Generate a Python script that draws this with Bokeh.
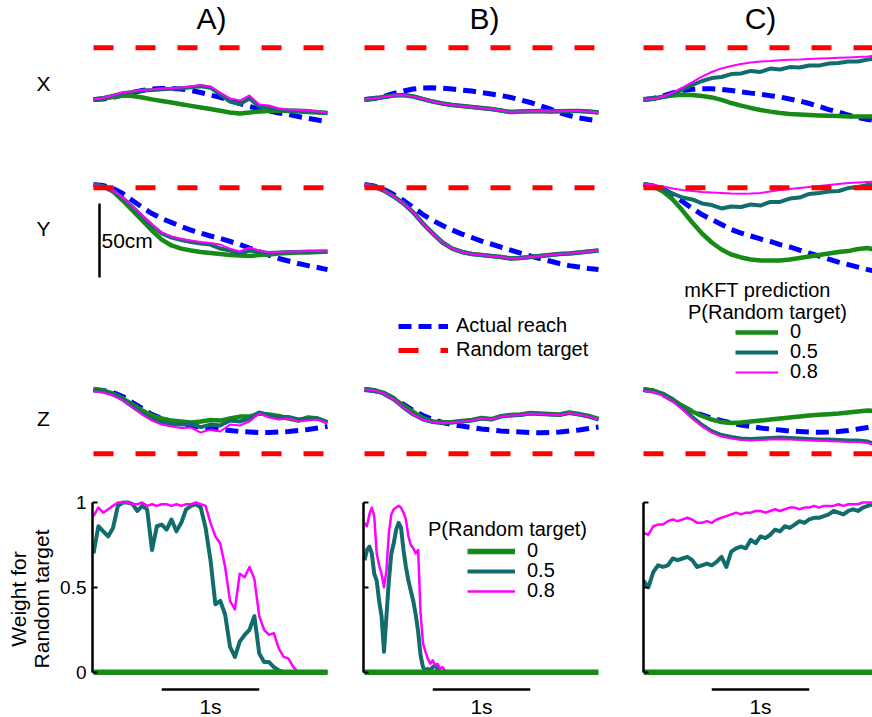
import numpy as np
from bokeh.plotting import figure
from bokeh.layouts import column, row
from bokeh.models import (Range1d, Label, Legend, LegendItem, LinearAxis,
                          FixedTicker, PrintfTickFormatter, CustomLabelingPolicy)
from bokeh.embed import file_html
from bokeh.resources import INLINE

# ---------------------------------------------------------------- data
# time of the position samples (s)
t_pos = [0.0, 0.1, 0.2, 0.3, 0.4, 0.5, 0.6, 0.7, 0.8, 0.9, 1.0, 1.1, 1.2,
         1.3, 1.4, 1.5, 1.6, 1.7, 1.8, 1.9, 2.0, 2.1, 2.2, 2.3, 2.4]
t_trial = [0.0, 2.4]

# random target position (cm, relative to start of reach)
target_x = 34.9
target_y = -2.2
target_z = -43.4

# ---- panel A (cm)
xA_reach = [0, 0.3, 1.4, 3.0, 4.7, 6.1, 7.1, 7.4, 7.4, 7.1, 6.1, 4.7, 3.0, 1.4, -0.7,
            -2.7, -4.7, -6.4, -7.8, -9.1, -10.1, -11.5, -12.8, -13.9, -14.9]
xA_m0 = [0, 0.7, 1.7, 2.7, 2.4, 1.4, 0.1, -1.0, -2.0, -3.2, -4.3, -5.4, -6.4, -7.6, -8.8,
         -9.5, -8.8, -8.1, -7.8, -7.4, -7.8, -8.1, -8.5, -8.8, -9.1]
xA_m05 = [0, 1.0, 2.5, 4.3, 5.0, 6.0, 6.4, 7.0, 7.3, 7.6, 8.3, 9.0, 8.0, 3.4, -1.4,
          -3.0, 0.7, -4.7, -5.4, -6.8, -7.4, -7.4, -7.8, -8.5, -9.1]
xA_m08 = [0, 1.0, 2.7, 4.7, 5.4, 6.4, 6.8, 7.4, 7.8, 8.1, 8.8, 9.8, 8.8, 4.7, 0.7,
          -0.7, 2.7, -3.4, -4.1, -6.1, -6.8, -7.1, -7.4, -8.1, -8.8]

yA_reach = [0, -0.7, -2.7, -6.1, -10.8, -15.5, -19.6, -23.0, -25.7, -28.4, -30.8, -32.8,
            -34.8, -36.5, -38.5, -40.5, -42.9, -45.3, -47.7, -50.0, -51.7, -53.4, -54.8,
            -56.1, -57.5]
yA_m0 = [0, -1.4, -4.7, -10.8, -17.6, -24.3, -31.1, -37.2, -41.2, -43.3, -44.6, -45.6,
         -46.3, -47.0, -47.7, -48.0, -48.3, -47.7, -47.3, -46.6, -46.3, -46.0, -46.0,
         -45.6, -45.3]
yA_m05 = [-0.3, -1.4, -4.1, -9.1, -15.2, -21.6, -27.7, -33.1, -35.9, -37.5, -38.9, -39.9,
          -40.6, -43.3, -44.6, -46.6, -44.6, -45.6, -46.3, -46.0, -45.6, -45.6, -45.3,
          -45.3, -45.6]
yA_m08 = [-0.3, -1.4, -4.1, -8.8, -14.9, -21.0, -27.0, -32.4, -35.2, -36.8, -37.9, -38.9,
          -39.5, -40.6, -43.3, -45.3, -42.6, -44.6, -46.0, -45.6, -45.3, -45.3, -45.0,
          -45.0, -45.3]

zA_reach = [0, -0.7, -2.0, -4.7, -8.8, -12.8, -16.9, -19.6, -21.6, -23.3, -24.3, -25.4,
            -26.4, -27.0, -27.7, -28.4, -28.7, -29.1, -29.1, -28.7, -28.4, -27.7, -27.0,
            -26.0, -25.0]
zA_m0 = [0.3, -0.7, -2.7, -6.1, -10.1, -14.2, -17.6, -19.6, -21.0, -21.6, -22.3, -21.6,
         -20.6, -21.0, -19.6, -18.3, -18.3, -16.2, -16.9, -17.9, -19.6, -21.0, -18.9,
         -19.6, -22.3]
zA_m05 = [-0.7, -1.4, -3.4, -6.8, -11.5, -16.2, -20.0, -22.3, -23.3, -23.7, -23.3, -25.4,
          -23.7, -24.3, -21.0, -21.6, -19.6, -15.5, -17.6, -18.6, -18.6, -20.3, -19.6,
          -19.6, -22.0]
zA_m08 = [-1.4, -2.0, -4.1, -7.4, -12.2, -16.9, -21.0, -23.7, -25.0, -26.0, -25.7, -29.1,
          -27.0, -28.4, -23.7, -24.3, -21.6, -16.2, -18.9, -20.3, -19.6, -21.6, -21.0,
          -20.3, -23.0]

# ---- panel B (cm) - the three model predictions overlap
xB_reach = [0, 0.7, 2.0, 4.1, 5.7, 7.1, 7.8, 7.9, 7.6, 7.1, 6.4, 5.7, 4.7, 3.7, 2.7,
            1.4, -0.3, -2.0, -4.1, -6.4, -8.8, -10.8, -12.5, -13.5, -14.5]
xB_m0 = [0, 0.7, 1.7, 2.7, 3.0, 2.0, 0.3, -1.4, -2.7, -3.7, -4.4, -5.1, -5.7, -6.4, -7.4,
         -8.5, -8.1, -8.0, -7.8, -8.1, -8.0, -7.8, -7.8, -8.1, -8.8]
xB_m05 = [0, 0.7, 1.7, 2.7, 3.0, 2.0, 0.3, -1.4, -2.7, -3.7, -4.4, -5.1, -5.7, -6.4, -7.4,
          -8.5, -8.1, -8.0, -7.8, -8.1, -8.0, -7.8, -7.8, -8.1, -8.8]
xB_m08 = [0, 0.7, 1.7, 2.7, 3.0, 2.0, 0.3, -1.4, -2.7, -3.7, -4.4, -5.1, -5.7, -6.4, -7.4,
          -8.5, -8.1, -8.0, -7.8, -8.1, -8.0, -7.8, -7.8, -8.1, -8.8]

yB_reach = [0, -1.0, -3.4, -6.8, -10.8, -15.5, -20.3, -24.3, -27.7, -30.8, -33.5, -35.8,
            -38.2, -40.2, -42.3, -44.3, -46.3, -48.3, -50.0, -51.7, -53.4, -54.8, -55.8,
            -56.8, -57.5]
yB_m0 = [0, -1.4, -4.1, -8.1, -12.8, -18.9, -26.4, -33.1, -39.2, -43.3, -45.6, -47.0,
         -47.7, -48.3, -49.0, -50.0, -49.7, -49.0, -48.3, -47.7, -47.0, -46.6, -46.0,
         -45.3, -44.6]
yB_m05 = [0, -1.4, -4.1, -8.1, -12.8, -18.9, -26.4, -33.1, -39.2, -43.3, -45.6, -47.0,
          -47.7, -48.3, -49.0, -50.0, -49.7, -49.0, -48.3, -47.7, -47.0, -46.6, -46.0,
          -45.3, -44.6]
yB_m08 = [0, -1.4, -4.1, -8.1, -12.8, -18.9, -26.4, -33.1, -39.2, -43.3, -45.6, -47.0,
          -47.7, -48.3, -49.0, -50.0, -49.7, -49.0, -48.3, -47.7, -47.0, -46.6, -46.0,
          -45.3, -44.6]

zB_reach = [0, -0.7, -2.7, -6.1, -10.1, -14.2, -17.6, -20.3, -22.3, -23.7, -24.7, -25.7,
            -26.7, -27.4, -28.1, -28.4, -28.7, -29.1, -29.3, -29.1, -28.7, -28.1, -27.4,
            -26.4, -25.4]
zB_m0 = [0, -0.7, -2.4, -6.1, -10.8, -15.2, -19.3, -21.6, -22.3, -22.0, -21.3, -20.6,
         -19.3, -20.0, -18.0, -17.2, -16.9, -15.9, -16.2, -16.6, -16.9, -15.5, -16.6,
         -17.9, -19.9]
zB_m05 = [0, -0.7, -2.7, -6.8, -12.2, -16.9, -20.3, -22.0, -22.6, -22.3, -21.6, -21.0,
          -19.6, -20.3, -18.3, -17.6, -17.2, -16.2, -16.6, -16.9, -17.2, -15.9, -16.9,
          -18.3, -20.3]
zB_m08 = [0, -0.7, -2.7, -6.8, -12.2, -16.9, -20.3, -22.0, -22.6, -22.3, -21.6, -21.0,
          -19.6, -20.3, -18.3, -17.6, -17.2, -16.2, -16.6, -16.9, -17.2, -15.9, -16.9,
          -18.3, -20.3]

# ---- panel C (cm)
xC_reach = [0, 0.7, 2.4, 4.4, 6.1, 6.9, 7.2, 7.2, 6.8, 6.1, 5.1, 4.3, 3.6, 2.6, 1.7,
            0.3, -1.0, -2.7, -4.7, -6.8, -8.5, -10.5, -12.2, -13.5, -14.5]
xC_m0 = [0, 0.7, 1.8, 2.7, 3.2, 3.0, 2.4, 1.4, -0.3, -2.4, -4.1, -5.7, -7.1, -8.2, -9.1,
         -9.8, -10.1, -10.5, -10.8, -11.0, -11.2, -11.5, -11.5, -11.5, -11.5]
xC_m05 = [0, 0.3, 1.7, 3.7, 6.8, 9.8, 12.5, 14.5, 15.2, 17.2, 17.6, 19.3, 18.6, 20.9,
          20.3, 21.9, 21.6, 23.0, 22.9, 24.3, 24.6, 25.7, 25.7, 27.0, 27.7]
xC_m08 = [0, 0.3, 2.0, 4.7, 8.1, 11.8, 15.5, 18.6, 21.0, 22.6, 24.0, 25.0, 25.7, 26.0,
          26.5, 26.8, 27.0, 27.4, 27.7, 27.9, 28.2, 28.4, 28.7, 29.1, 29.7]

yC_reach = [0, -1.0, -3.0, -6.8, -11.5, -16.2, -20.3, -23.7, -27.0, -30.4, -32.8, -34.8,
            -36.8, -38.5, -40.6, -42.2, -44.3, -46.3, -48.3, -50.4, -52.4, -54.1, -55.8,
            -57.5, -58.8]
yC_m0 = [0, -1.4, -4.7, -10.1, -17.6, -25.7, -33.1, -39.2, -43.9, -47.3, -49.3, -50.7,
         -51.4, -51.4, -51.4, -50.7, -49.7, -48.7, -47.7, -46.6, -45.6, -45.0, -43.6,
         -42.9, -44.6]
yC_m05 = [0.3, -1.0, -3.4, -6.1, -8.8, -10.1, -12.8, -13.9, -16.2, -14.9, -15.2, -13.5,
          -14.2, -11.8, -11.8, -9.5, -8.8, -6.4, -5.7, -4.7, -4.4, -2.4, -1.7, -0.3, 0.7]
yC_m08 = [0.3, -0.3, -1.4, -2.7, -3.7, -4.4, -5.1, -5.4, -5.7, -6.1, -6.3, -6.1, -5.7,
          -4.7, -3.7, -3.0, -2.4, -1.7, -1.0, -0.3, 0.3, 1.0, 1.4, 1.7, 2.0]

zC_reach = [0, -1.0, -3.4, -7.1, -11.5, -14.9, -17.2, -19.3, -21.0, -22.6, -24.0, -25.0,
            -26.0, -26.7, -27.4, -28.1, -28.4, -28.7, -28.9, -28.7, -28.4, -27.7, -26.7,
            -25.7, -24.7]
zC_m0 = [0, -0.7, -3.0, -6.8, -11.2, -14.9, -17.9, -20.3, -22.0, -22.6, -22.3, -21.6,
         -21.0, -20.3, -19.6, -18.9, -18.3, -17.6, -17.1, -16.7, -16.2, -15.5, -14.9,
         -14.2, -14.5]
zC_m05 = [-0.3, -1.2, -3.4, -7.4, -12.5, -18.6, -24.0, -28.1, -30.8, -32.1, -33.1, -33.4,
          -33.1, -32.8, -32.5, -32.8, -33.1, -33.4, -33.8, -33.8, -34.1, -34.5, -34.5,
          -35.2, -37.5]
zC_m08 = [-1.0, -1.7, -4.1, -8.1, -13.5, -19.6, -25.0, -29.1, -31.8, -33.1, -34.1, -34.5,
          -34.1, -33.8, -33.6, -33.8, -34.1, -34.5, -34.7, -34.9, -35.2, -35.4, -35.5,
          -36.2, -38.5]

# ---- weight for the random target
t_wA = [0.0, 0.05, 0.1, 0.15, 0.2, 0.25, 0.3, 0.35, 0.4, 0.45, 0.5, 0.55, 0.6, 0.65,
        0.7, 0.75, 0.8, 0.85, 0.9, 0.95, 1.0, 1.05, 1.1, 1.15, 1.2, 1.25, 1.3, 1.35,
        1.4, 1.45, 1.5, 1.55, 1.6, 1.65, 1.7, 1.75, 1.8, 1.85, 1.9, 1.95, 2.0, 2.05,
        2.1, 2.15, 2.2, 2.25, 2.3, 2.35, 2.4]
wA_m05 = [0.70, 0.86, 0.83, 0.80, 0.85, 0.98, 1.0, 1.0, 0.99, 0.95, 0.98, 0.96, 0.72,
          0.86, 0.87, 0.84, 0.90, 0.83, 0.88, 0.96, 0.98, 0.99, 0.97, 0.85, 0.66, 0.40,
          0.42, 0.34, 0.15, 0.09, 0.18, 0.22, 0.25, 0.33, 0.11, 0.06, 0.06, 0.03, 0.01,
          0, 0, 0, 0, 0, 0, 0, 0, 0, 0]
wA_m08 = [0.92, 0.97, 0.94, 0.96, 0.98, 1.0, 1.0, 1.0, 0.99, 0.99, 1.0, 0.98, 0.99,
          0.98, 0.99, 0.99, 0.98, 0.99, 0.98, 0.99, 0.99, 1.0, 0.99, 0.98, 0.88, 0.80,
          0.76, 0.62, 0.42, 0.37, 0.58, 0.56, 0.62, 0.55, 0.33, 0.25, 0.22, 0.23, 0.14,
          0.09, 0.08, 0.03, 0.0, 0, 0, 0, 0, 0, 0]

t_wB = [0.0, 0.025, 0.05, 0.075, 0.1, 0.125, 0.15, 0.175, 0.2, 0.225, 0.25, 0.275, 0.3,
        0.325, 0.35, 0.375, 0.4, 0.425, 0.45, 0.475, 0.5, 0.525, 0.55, 0.575, 0.6,
        0.625, 0.65, 0.675, 0.7, 0.725, 0.75, 0.775, 0.8, 0.825, 0.85]
wB_m05 = [0.66, 0.72, 0.74, 0.70, 0.58, 0.54, 0.42, 0.33, 0.12, 0.33, 0.54, 0.70, 0.76,
          0.84, 0.88, 0.85, 0.72, 0.62, 0.54, 0.48, 0.42, 0.34, 0.24, 0.10, 0.03, 0.01,
          0.02, 0.01, 0.03, 0.04, 0.02, 0.0, 0.0, 0.0, 0.0]
wB_m08 = [0.88, 0.86, 0.93, 0.97, 0.92, 0.70, 0.63, 0.58, 0.50, 0.60, 0.82, 0.93, 0.96,
          0.97, 0.98, 0.97, 0.94, 0.90, 0.80, 0.75, 0.73, 0.70, 0.72, 0.35, 0.17, 0.12,
          0.08, 0.05, 0.07, 0.04, 0.05, 0.02, 0.03, 0.01, 0.0]

t_wC = t_wA
wC_m05 = [0.54, 0.50, 0.59, 0.63, 0.62, 0.63, 0.67, 0.66, 0.67, 0.68, 0.66, 0.62, 0.63,
          0.64, 0.63, 0.65, 0.68, 0.62, 0.71, 0.73, 0.74, 0.73, 0.78, 0.76, 0.80, 0.79,
          0.81, 0.84, 0.83, 0.86, 0.85, 0.87, 0.89, 0.88, 0.90, 0.91, 0.91, 0.92, 0.93,
          0.95, 0.94, 0.93, 0.95, 0.96, 0.95, 0.97, 0.98, 0.99, 1.0]
wC_m08 = [0.82, 0.81, 0.86, 0.87, 0.87, 0.89, 0.90, 0.89, 0.90, 0.91, 0.90, 0.88, 0.88,
          0.89, 0.88, 0.90, 0.91, 0.92, 0.93, 0.94, 0.93, 0.94, 0.94, 0.95, 0.95, 0.94,
          0.95, 0.96, 0.95, 0.96, 0.97, 0.97, 0.96, 0.97, 0.97, 0.98, 0.97, 0.98, 0.98,
          0.98, 0.99, 0.98, 0.99, 0.99, 0.99, 1.0, 1.0, 1.0, 1.0]

w_m0 = [0.0, 0.0]          # P(Random target)=0 -> weight stays 0 over the trial
weight_ticks = [0, 0.5, 1]
scale_bar_s = 1.0
scale_bar_cm = 50

legend_reach = "Actual reach"
legend_target = "Random target"
p_labels = ["0", "0.5", "0.8"]

# ---------------------------------------------------------------- style / layout
FONT = "Liberation Sans"
FS = "21px"
FS_LEG = "20px"
GREEN = "#178a17"
TEAL = "#126c6c"
MAGENTA = "#ff00ff"
BLUE = "#0000ff"
RED = "#ff0000"

K = 97.5     # px per second
S = 1.48     # px per cm
WS = 169.7   # px per unit of weight

# column: (figure left px, figure width, px of t=0)
COLS = {"A": (0, 345, 93), "B": (345, 270, 364), "C": (615, 257, 643)}
# position rows: (figure top px, height, px of start position)
POS_ROWS = {"X": (0, 150, 99), "Y": (150, 236, 184), "Z": (386, 94, 389)}
W_TOP, W_H, W_Y0 = 480, 237, 671.7
W_BL = {"A": 92, "B": 18, "C": 28}


def new_fig(width, height, xr, yr, bl=0):
    return figure(width=width, height=height, x_range=Range1d(*xr), y_range=Range1d(*yr),
                  title=None, x_axis_type=None, y_axis_type=None, output_backend="svg",
                  toolbar_location=None, min_border_left=bl, min_border_right=0,
                  min_border_top=0, min_border_bottom=0, outline_line_color=None,
                  background_fill_color="white", border_fill_color="white")


def txt(p, x, y, s, size=FS, align="center", xu="screen", yu="screen"):
    p.add_layout(Label(x=x, y=y, x_units=xu, y_units=yu, text=s, text_align=align,
                       text_baseline="middle", text_font=FONT, text_font_size=size,
                       text_color="black"))


def leg(p, frame_left, frame_bottom, label, r, glyph_left, center, gw, standoff):
    H = 20
    p.add_layout(Legend(items=[LegendItem(label=label, renderers=[r])],
                        location=(glyph_left - frame_left, frame_bottom - (center + H / 2)),
                        padding=0, margin=0, spacing=0, border_line_color=None,
                        background_fill_alpha=0, glyph_width=gw, glyph_height=H,
                        label_height=H, label_standoff=standoff, label_text_font=FONT,
                        label_text_font_size=FS_LEG, label_text_color="black"))


pos_data = {
    ("A", "X"): (xA_reach, xA_m0, xA_m05, xA_m08, target_x),
    ("B", "X"): (xB_reach, xB_m0, xB_m05, xB_m08, target_x),
    ("C", "X"): (xC_reach, xC_m0, xC_m05, xC_m08, target_x),
    ("A", "Y"): (yA_reach, yA_m0, yA_m05, yA_m08, target_y),
    ("B", "Y"): (yB_reach, yB_m0, yB_m05, yB_m08, target_y),
    ("C", "Y"): (yC_reach, yC_m0, yC_m05, yC_m08, target_y),
    ("A", "Z"): (zA_reach, zA_m0, zA_m05, zA_m08, target_z),
    ("B", "Z"): (zB_reach, zB_m0, zB_m05, zB_m08, target_z),
    ("C", "Z"): (zC_reach, zC_m0, zC_m05, zC_m08, target_z),
}

figs, rend = {}, {}
for coord in "XYZ":
    for col in "ABC":
        left, width, t0 = COLS[col]
        top, height, y0 = POS_ROWS[coord]
        p = new_fig(width, height, ((left - t0) / K, (left + width - t0) / K),
                    (-(top + height - y0) / S, (y0 - top) / S))
        reach, m0, m05, m08, tgt = pos_data[(col, coord)]
        rb = p.line(t_pos, reach, line_color=BLUE, line_width=5, line_dash="13 7")
        rg = p.line(t_pos, m0, line_color=GREEN, line_width=4.5, line_join="round")
        rt = p.line(t_pos, m05, line_color=TEAL, line_width=4, line_join="round")
        rm = p.line(t_pos, m08, line_color=MAGENTA, line_width=2, line_join="round")
        rr = p.line(t_trial, [tgt, tgt], line_color=RED, line_width=5, line_dash="20 22")
        figs[(col, coord)] = p
        rend[(col, coord)] = dict(reach=rb, m0=rg, m05=rt, m08=rm, target=rr)

# titles
for col, cx in (("A", 211), ("B", 484), ("C", 760)):
    txt(figs[(col, "X")], cx - COLS[col][0], 150 - 18, col + ")", size="30px")
# row labels
txt(figs[("A", "X")], 43, 150 - 83, "X")
txt(figs[("A", "Y")], 43, 386 - 228, "Y")
txt(figs[("A", "Z")], 43, 480 - 418, "Z")

# 50 cm scale bar
pA = figs[("A", "Y")]
sb_t = (99 - 93) / K
sb_top = (184 - 203) / S
pA.line([sb_t, sb_t], [sb_top, sb_top - scale_bar_cm], line_color="black", line_width=2.5)
txt(pA, 101, 386 - 240, "50cm", align="left")

# legend: actual reach / random target
pB = figs[("B", "Y")]
leg(pB, 345, 386, legend_reach, rend[("B", "Y")]["reach"], 398, 327, 50, 8)
leg(pB, 345, 386, legend_target, rend[("B", "Y")]["target"], 398, 351, 50, 8)

# legend: mKFT prediction
pC = figs[("C", "Y")]
txt(pC, 757 - 615, 386 - 289, "mKFT prediction", size=FS_LEG)
txt(pC, 767 - 615, 386 - 311, "P(Random target)", size=FS_LEG)
for key, lab, cy in (("m0", p_labels[0], 333), ("m05", p_labels[1], 353),
                     ("m08", p_labels[2], 373)):
    leg(pC, 615, 386, lab, rend[("C", "Y")][key], 735, cy, 43, 12)

# weight row
w_data = {"A": (t_wA, wA_m05, wA_m08), "B": (t_wB, wB_m05, wB_m08),
          "C": (t_wC, wC_m05, wC_m08)}
wfigs, wrend = {}, {}
for col in "ABC":
    left, width, t0 = COLS[col]
    bl = W_BL[col]
    p = new_fig(width, W_H, ((left + bl - t0) / K, (left + width - t0) / K),
                (-(W_TOP + W_H - W_Y0) / WS, (W_Y0 - W_TOP) / WS), bl=bl)
    ax = LinearAxis(bounds=(0, 1), ticker=FixedTicker(ticks=weight_ticks),
                    formatter=PrintfTickFormatter(format="%g"),
                    axis_line_width=2.5, axis_line_color="black",
                    major_tick_line_width=2, major_tick_in=5, major_tick_out=0,
                    major_tick_line_color="black",
                    minor_tick_line_color=None, major_label_standoff=6,
                    major_label_text_font=FONT, major_label_text_color="black",
                    major_label_text_font_size="19px")
    if col == "A":
        ax.axis_label = "Weight for\nRandom target"
        ax.axis_label_text_font = FONT
        ax.axis_label_text_font_size = "21px"
        ax.axis_label_text_font_style = "normal"
        ax.axis_label_text_color = "black"
        ax.axis_label_text_line_height = 1.0
        ax.axis_label_standoff = 4
    else:
        # panels B and C show the axis line and ticks only
        ax.major_label_policy = CustomLabelingPolicy(code="return new Set()")
        ax.major_label_text_font_size = "0px"
        ax.major_label_standoff = 0
    p.add_layout(ax, "left")
    tw, w05, w08 = w_data[col]
    rt = p.line(tw, w05, line_color=TEAL, line_width=4, line_join="round")
    rm = p.line(tw, w08, line_color=MAGENTA, line_width=2.5, line_join="round")
    rg = p.line(t_trial, w_m0, line_color=GREEN, line_width=5.5)
    sb_start = 0.7
    sb_y = -(689 - W_Y0) / WS
    p.line([sb_start, sb_start + scale_bar_s], [sb_y, sb_y], line_color="black",
           line_width=2.5)
    txt(p, sb_start + scale_bar_s / 2, W_H - (706 - W_TOP), "1s", xu="data")
    wfigs[col] = p
    wrend[col] = dict(m0=rg, m05=rt, m08=rm)

pW = wfigs["B"]
txt(pW, 507 - 363, 717 - 528, "P(Random target)", size=FS_LEG)
for key, lab, cy in (("m0", p_labels[0], 552), ("m05", p_labels[1], 572),
                     ("m08", p_labels[2], 592)):
    leg(pW, 363, 717, lab, wrend["B"][key], 467, cy, 48, 12)

layout = column(
    row(figs[("A", "X")], figs[("B", "X")], figs[("C", "X")]),
    row(figs[("A", "Y")], figs[("B", "Y")], figs[("C", "Y")]),
    row(figs[("A", "Z")], figs[("B", "Z")], figs[("C", "Z")]),
    row(wfigs["A"], wfigs["B"], wfigs["C"]),
)

open("out.html", "w").write(file_html(layout, INLINE))
